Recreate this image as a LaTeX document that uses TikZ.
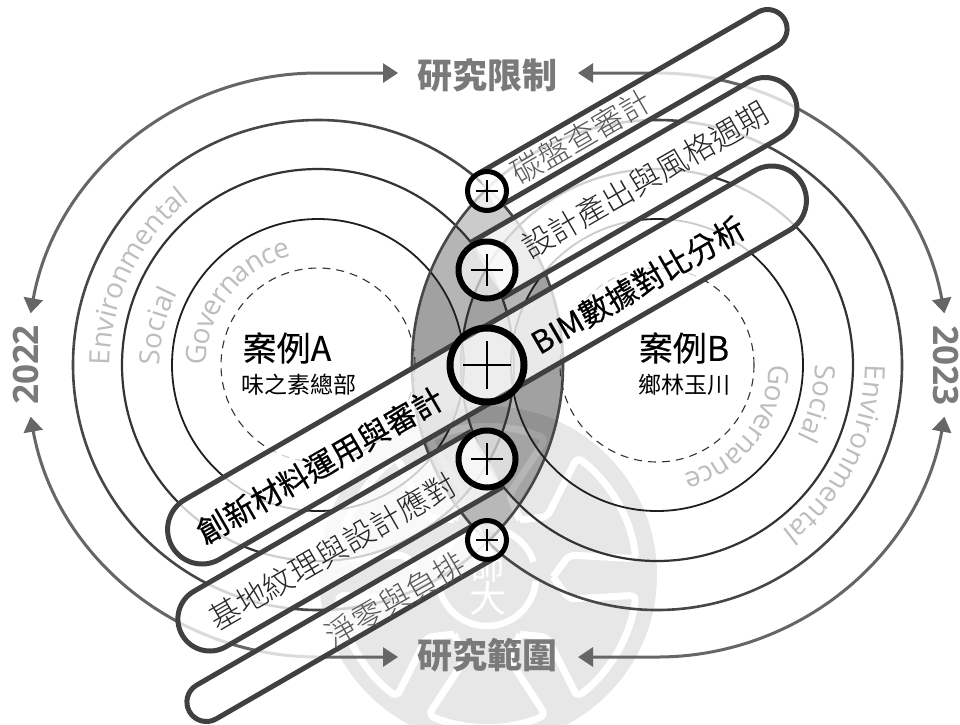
\documentclass[tikz,border=0pt]{standalone}
\usepackage{fontspec}
\setsansfont{Open Sans}
\newfontfamily\cjk{Noto Sans CJK TC}
\newfontfamily\cjkl{Noto Sans CJK TC Light}
\newfontfamily\cjkm[FakeBold=0.4]{Noto Sans CJK TC}
\newfontfamily\cjkn[FakeBold=0.2]{Noto Sans CJK TC}
\usetikzlibrary{arrows.meta,decorations.text}
\definecolor{lab}{HTML}{BDBDBD}
\definecolor{wm}{HTML}{E7E7E7}
\definecolor{arrowc}{HTML}{666666}
\definecolor{titlec}{HTML}{7A7A7A}
\definecolor{edgec}{HTML}{404040}
\tikzset{
  logo/.style={draw=white,line width=7pt,line join=round,rounded corners=6pt},
  shade/.style={fill=black,fill opacity=.105},
  outerarrow/.style={draw=arrowc,line width=3pt,{Triangle[length=15pt,width=19pt]}-{Triangle[length=15pt,width=19pt]}},
  ribbonbody/.style={draw=edgec,line width=5pt,fill=white,fill opacity=.77,line join=round},
  plusnode/.style={circle,draw=black,fill=white,fill opacity=.62,draw opacity=1,inner sep=0pt},
  crossline/.style={draw=black},
  tlabel/.style={inner sep=0pt,font=\cjk\fontsize{35}{35}\selectfont\bfseries,text=titlec},
  yearlabel/.style={inner sep=0pt,font=\sffamily\bfseries\fontsize{35}{35}\selectfont,text=titlec},
  bigtext/.style={inner sep=0pt,rotate=30,font=\cjkm\fontsize{31}{31}\selectfont,text=black},
  midtext/.style={inner sep=0pt,rotate=30,font=\cjkl\fontsize{31}{31}\selectfont,text=black!85},
  lowtext/.style={inner sep=0pt,rotate=30,font=\cjkl\fontsize{31}{31}\selectfont,text=black!65},
  casetitle/.style={inner sep=0pt,font=\cjkn\fontsize{34}{34}\selectfont,text=black},
  casesub/.style={inner sep=0pt,font=\cjk\fontsize{23}{23}\selectfont,text=black},
}
\newcommand\curvedlabel[6]{% centre, radius, start, end, text, size
  \path[decorate,decoration={text along path,text align={fit to path},raise=-10pt,
    text={|\sffamily\fontsize{#6}{#6}\selectfont\color{lab}|#5}}]
    (#1) ++(#3:#2pt) arc[start angle=#3,end angle=#4,radius=#2pt];}
\newcommand\openribbon[4]{% centre, angle, length, half width
  \begin{scope}[shift={(#1)},rotate=#2]
    \draw[ribbonbody] (0pt,#4pt) -- (#3pt,#4pt) arc[start angle=90,end angle=-90,radius=#4pt] -- (0pt,-#4pt);
  \end{scope}}
\newcommand\plus[4]{% name, centre, diameter, line width
  \node[plusnode,minimum size=#3pt,line width=#4] (#1) at (#2) {};}
\begin{document}
\begin{tikzpicture}[x=1pt,y=-1pt]
\useasboundingbox (0,0) rectangle (960,724);
\fill[white] (0,0) rectangle (960,724);
\coordinate (A) at (318,365);
\coordinate (B) at (657,365);
\coordinate (C) at (487,577);
% watermark
\begin{scope}
  \clip (0,0) rectangle (960,724);
  \fill[wm] (488,575) circle[radius=169pt];
  \begin{scope}
    \clip (488,575) circle[radius=169pt];
    \foreach \a in {90,30,-30,-90,-150,150}{
      \draw[logo] ([shift={(\a-30:66pt)}]C) -- ([shift={(\a-15:85pt)}]C) -- ([shift={(\a-23:150pt)}]C)
        arc[start angle=\a-23,end angle=\a+23,radius=150pt]
        -- ([shift={(\a+15:85pt)}]C) -- ([shift={(\a+30:66pt)}]C);
    }
    \draw[draw=white,line width=6.5pt] ([shift={(-5:49pt)}]C) arc[start angle=-5,end angle=-175,radius=49pt];
    \draw[draw=white,line width=6.5pt] ([shift={(18:49pt)}]C) arc[start angle=18,end angle=162,radius=49pt];
  \end{scope}
  \node[inner sep=0pt,font=\cjk\fontsize{33}{33}\selectfont,text=white] (shi) at (488,567) {師};
  \node[inner sep=0pt,font=\cjk\fontsize{37}{37}\selectfont,text=white] (da) at (488,598) {大};
\end{scope}
% lens
\begin{scope}
  \clip (A) circle[radius=245pt];
  \clip (B) circle[radius=245pt];
  \fill[shade] (A) circle[radius=245pt];
  \fill[shade] (B) circle[radius=245pt];
  \fill[shade] (A) circle[radius=196pt];
  \fill[shade] (B) circle[radius=196pt];
  \fill[shade] (A) circle[radius=146pt];
  \fill[shade] (B) circle[radius=146pt];
\end{scope}
% rings
\foreach \c in {A,B}{
  \draw[draw=black!72,line width=2.6pt] (\c) circle[radius=245pt];
  \draw[draw=black!80,line width=2.2pt] (\c) circle[radius=196pt];
  \draw[draw=black!88,line width=1.8pt] (\c) circle[radius=146pt];
  \draw[draw=black!80,line width=1.1pt,dash pattern=on 8pt off 6pt] (\c) circle[radius=97pt];
}
% outer arrows
\draw[outerarrow] (398,73) -- (318,73) arc[start angle=90,end angle=169.8,radius=292pt];
\draw[outerarrow] (398,657) -- (318,657) arc[start angle=270,end angle=190.2,radius=292pt];
\draw[outerarrow] (578,73) -- (657,73) arc[start angle=90,end angle=10.2,radius=292pt];
\draw[outerarrow] (578,657) -- (657,657) arc[start angle=270,end angle=349.8,radius=292pt];
% curved labels
\curvedlabel{A}{122}{180}{104}{Governance}{28}
\curvedlabel{A}{168}{180}{153}{Social}{28}
\curvedlabel{A}{218}{180}{128}{Environmental}{28}
\curvedlabel{B}{122}{0}{-76}{Governance}{28}
\curvedlabel{B}{168}{0}{-27}{Social}{28}
\curvedlabel{B}{218}{0}{-53}{Environmental}{28}
% ribbons
\openribbon{487,191}{30}{324}{19.5}
\openribbon{487,270}{30}{321}{32}
\openribbon{487,459}{210}{320}{32}
\openribbon{487,540}{210}{324}{19.5}
\begin{scope}[shift={(487,365)},rotate=30]
  \draw[ribbonbody] (-329pt,34.5pt) -- (329pt,34.5pt) arc[start angle=90,end angle=-90,radius=34.5pt]
    -- (-329pt,-34.5pt) arc[start angle=270,end angle=90,radius=34.5pt] -- cycle;
\end{scope}
% plus nodes
\plus{p1}{487,191}{39}{5pt}
\plus{p2}{487,270}{57}{6pt}
\node[plusnode,fill opacity=.2,minimum size=74pt,line width=7pt] (p3) at (487,365) {};
\plus{p4}{487,459}{57}{6pt}
\plus{p5}{487,540}{39}{5pt}
\draw[crossline,line width=1.5pt] (p1.center) ++(-11pt,0pt) -- ++(22pt,0pt) (p1.center) ++(0pt,-11pt) -- ++(0pt,22pt);
\draw[crossline,line width=2pt] (p2.center) ++(-16pt,0pt) -- ++(32pt,0pt) (p2.center) ++(0pt,-16pt) -- ++(0pt,32pt);
\draw[crossline,line width=2.4pt] (p3.center) ++(-24pt,0pt) -- ++(48pt,0pt) (p3.center) ++(0pt,-24pt) -- ++(0pt,48pt);
\draw[crossline,line width=2pt] (p4.center) ++(-16pt,0pt) -- ++(32pt,0pt) (p4.center) ++(0pt,-16pt) -- ++(0pt,32pt);
\draw[crossline,line width=1.5pt] (p5.center) ++(-11pt,0pt) -- ++(22pt,0pt) (p5.center) ++(0pt,-11pt) -- ++(0pt,22pt);
% ribbon text
\node[lowtext] (t1) at (581,137) {碳盤查審計};
\node[midtext] (t2) at (645,180) {設計產出與風格週期};
\node[bigtext] (t3) at (638,285) {BIM數據對比分析};
\node[bigtext] (t4) at (320,465) {創新材料運用與審計};
\node[midtext] (t5) at (332,551) {基地紋理與設計應對};
\node[lowtext] (t6) at (395,600) {淨零與負排};
% titles
\node[tlabel] (top) at (487,75) {研究限制};
\node[tlabel] (bot) at (487,655) {研究範圍};
\node[yearlabel,rotate=90] (y1) at (26,365) {2022};
\node[yearlabel,rotate=-90] (y2) at (946,365) {2023};
\node[casetitle] (ca) at (287,348) {案例A};
\node[casesub] (cas) at (299,385) {味之素總部};
\node[casetitle] (cb) at (684,348) {案例B};
\node[casesub] (cbs) at (684,385) {鄉林玉川};
\end{tikzpicture}
\end{document}
